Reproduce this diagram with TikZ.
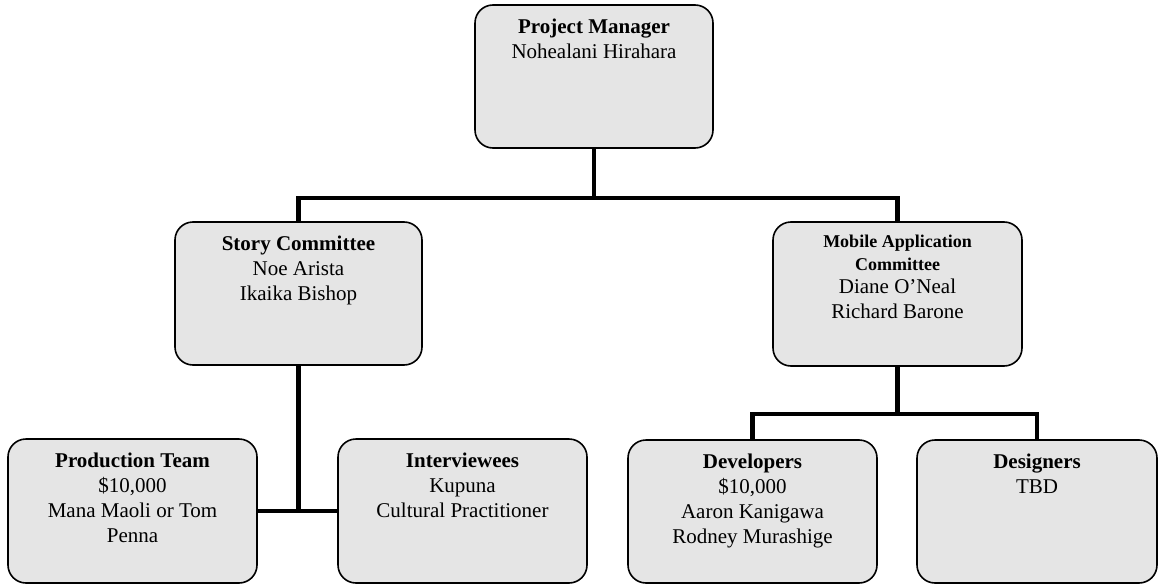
\documentclass[tikz,border=0pt]{standalone}
\usepackage{fontspec}
\setmainfont{Liberation Serif}
\tikzset{
  orgbox/.style={draw=black, line width=1.6pt, rounded corners=18pt, fill=black!10},
  conn/.style={draw=black, line width=4.5pt},
  txt/.style={anchor=north, align=center, inner sep=0pt, font=\fontsize{21}{25}\selectfont},
}
\newcommand{\orgbox}[5]{% name, x1, y1, x2, y2
  \path[orgbox] (#2,#3) rectangle (#4,#5);
  \node[inner sep=0pt, minimum width={(#4-#2)*1pt}, minimum height={(#5-#3)*1pt}] (#1) at ({(#2+#4)/2},{(#3+#5)/2}) {};
}
\newcommand{\smallb}[1]{\fontsize{18}{23}\selectfont\textbf{#1}}
\newcommand{\normsz}{\fontsize{21}{25}\selectfont}
\begin{document}
\begin{tikzpicture}[x=1pt,y=-1pt]
\useasboundingbox (0,0) rectangle (1159,586);
% boxes
\orgbox{pm}{475}{5}{713}{148}
\orgbox{story}{175}{222}{422}{365}
\orgbox{mobile}{773}{222}{1022}{366}
\orgbox{prod}{8}{439}{257}{583}
\orgbox{intv}{338}{439}{587}{583}
\orgbox{dev}{628}{440}{877}{583}
\orgbox{des}{917}{440}{1157}{583}
% texts
\node[txt] (pmT) at ([yshift=-14pt]pm.north) {\textbf{Project Manager}\\Nohealani Hirahara};
\node[txt] (storyT) at ([yshift=-14pt]story.north) {\textbf{Story Committee}\\Noe Arista\\Ikaika Bishop};
\node[txt] (mobileT) at ([yshift=-13pt]mobile.north) {\smallb{Mobile Application}\\[-2pt]\smallb{Committee}\\[-2pt]\normsz Diane O'Neal\\\normsz Richard Barone};
\node[txt] (prodT) at ([yshift=-14pt]prod.north) {\textbf{Production Team}\\\$10,000\\Mana Maoli or Tom\\Penna};
\node[txt] (intvT) at ([yshift=-14pt]intv.north) {\textbf{Interviewees}\\Kupuna\\Cultural Practitioner};
\node[txt] (devT) at ([yshift=-14pt]dev.north) {\textbf{Developers}\\\$10,000\\Aaron Kanigawa\\Rodney Murashige};
\node[txt] (desT) at ([yshift=-14pt]des.north) {\textbf{Designers}\\TBD};
% connectors
\coordinate (bus1) at (pm.south |- 0,198);
\coordinate (bus2) at (mobile.south |- 0,414);
\draw[conn] (pm.south) -- (bus1);
\draw[conn] (story.north) |- (bus1) -| (mobile.north);
\draw[conn] (story.south) -- (story.south |- prod.east);
\draw[conn] (prod.east) -- (intv.west);
\draw[conn] (mobile.south) -- (bus2);
\draw[conn] (dev.north) |- (bus2) -| (des.north);
\end{tikzpicture}
\end{document}
